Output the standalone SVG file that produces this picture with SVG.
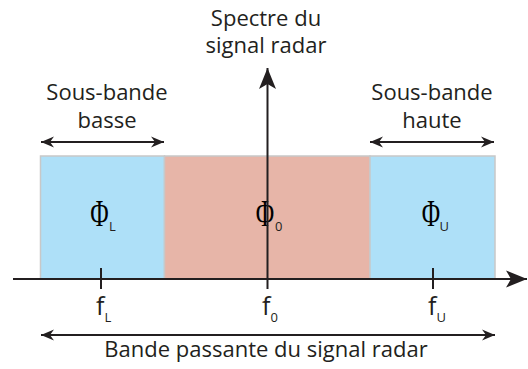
<svg xmlns="http://www.w3.org/2000/svg" width="528" height="369" viewBox="0 0 528 369">
<defs>
<marker id="ah" viewBox="-14 -7 15 14" markerWidth="15" markerHeight="14" refX="0" refY="0" orient="auto-start-reverse" markerUnits="userSpaceOnUse">
<path d="M0,0 L-13,-5.5 L-9,0 L-13,5.5 Z" fill="#231f20"/>
</marker>
<marker id="ahb" viewBox="-22 -9 23 18" markerWidth="23" markerHeight="18" refX="0" refY="0" orient="auto" markerUnits="userSpaceOnUse">
<path d="M0,0 L-21,-8.5 L-16,0 L-21,8.5 Z" fill="#231f20"/>
</marker>
</defs>
<style>
.t{font-family:"Open Sans","Liberation Sans",sans-serif;font-size:22px;fill:#231f20;text-anchor:middle}
.phi{font-family:"Liberation Serif","DejaVu Serif",serif;font-size:37px;fill:#000;text-anchor:middle}
.sub{font-family:"Open Sans","Liberation Sans",sans-serif;font-size:13px;fill:#231f20}
.f{font-family:"Open Sans","Liberation Sans",sans-serif;font-size:25px;fill:#231f20}
.ln{stroke:#231f20;stroke-width:2;fill:none}
.blue{fill:#aee0f8;stroke:#c8c8c8;stroke-width:1.5}
.red{fill:#e7b5a8;stroke:#c8c8c8;stroke-width:1.5}
</style>
<g id="band-low"><rect class="blue" x="40.5" y="156" width="124" height="123"/>
<text class="phi" transform="translate(99.5,226) scale(0.68,1)">Φ</text><text class="sub" x="109" y="231">L</text></g>
<g id="band-center"><rect class="red" x="164.5" y="156" width="205.5" height="123"/>
<text class="phi" transform="translate(265,226) scale(0.68,1)">Φ</text><text class="sub" x="275" y="231">0</text></g>
<g id="band-high"><rect class="blue" x="370" y="156" width="125" height="123"/>
<text class="phi" transform="translate(431,226) scale(0.68,1)">Φ</text><text class="sub" x="439.5" y="231">U</text></g>
<g id="connectors">
<line class="ln" x1="13" y1="279" x2="527" y2="279" marker-end="url(#ahb)"/>
<line class="ln" x1="267.5" y1="289" x2="267.5" y2="68" marker-end="url(#ahb)"/>
<line class="ln" x1="101" y1="268" x2="101" y2="289"/>
<line class="ln" x1="433" y1="268" x2="433" y2="289"/>
<line class="ln" x1="41" y1="142" x2="164" y2="142" marker-start="url(#ah)" marker-end="url(#ah)"/>
<line class="ln" x1="370" y1="142" x2="494" y2="142" marker-start="url(#ah)" marker-end="url(#ah)"/>
<line class="ln" x1="41" y1="335" x2="495" y2="335" marker-start="url(#ah)" marker-end="url(#ah)"/>
</g>
<g id="labels">
<text class="t" x="266" y="26">Spectre du</text>
<text class="t" x="266" y="53">signal radar</text>
<text class="t" x="107" y="100">Sous-bande</text>
<text class="t" x="107" y="128">basse</text>
<text class="t" x="432" y="100">Sous-bande</text>
<text class="t" x="432" y="128">haute</text>
<text class="t" x="266" y="357">Bande passante du signal radar</text>
<text class="f" x="96" y="315">f<tspan class="sub" dy="7">L</tspan></text>
<text class="f" x="262" y="315">f<tspan class="sub" dy="7">0</tspan></text>
<text class="f" x="428" y="315">f<tspan class="sub" dy="7">U</tspan></text>
</g>
</svg>
